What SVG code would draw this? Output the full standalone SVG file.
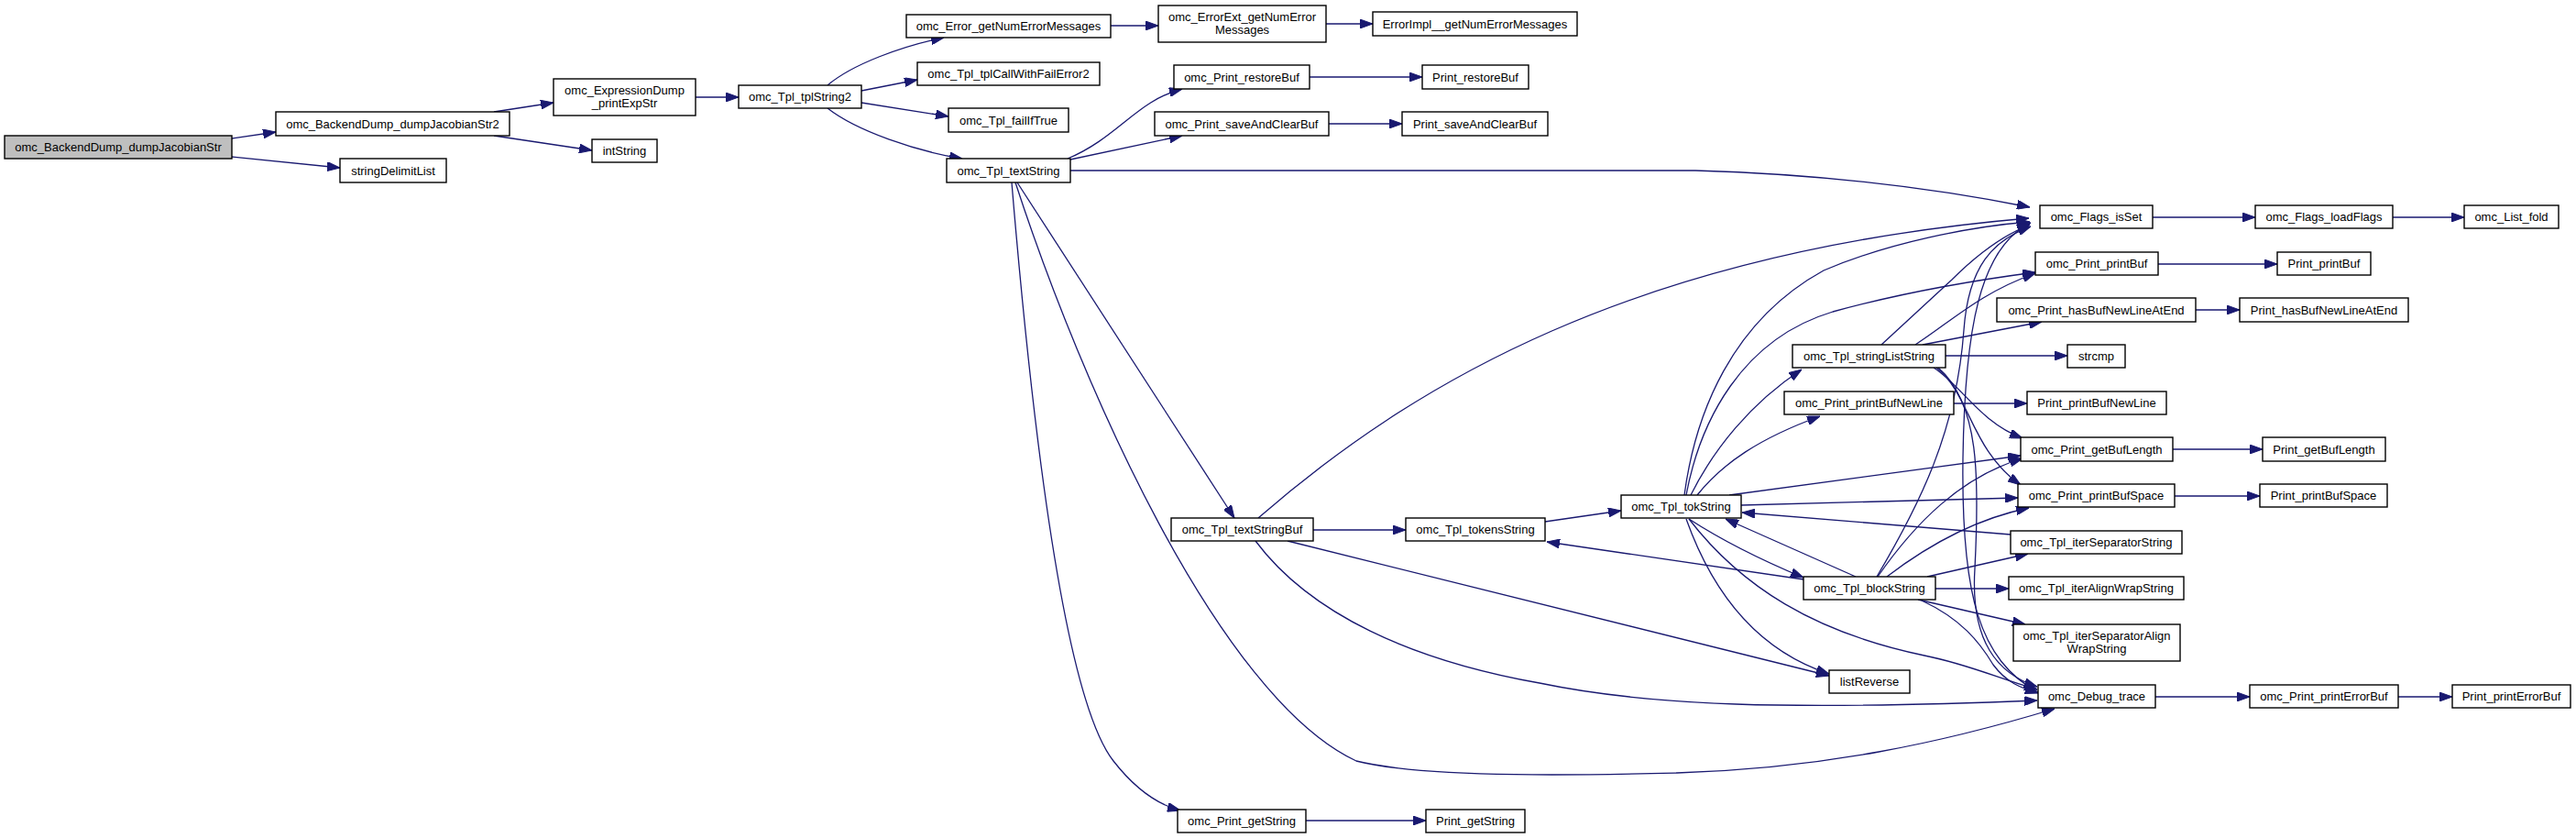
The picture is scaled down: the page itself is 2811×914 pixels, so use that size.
<svg xmlns="http://www.w3.org/2000/svg" width="2811" height="914" viewBox="0 0 2811 914">
<style>
.n rect{fill:#fff;stroke:#000;stroke-width:1.4}
.n text{font-family:"Liberation Sans",Arial,sans-serif;font-size:13px;text-anchor:middle;fill:#000}
#edges path{fill:none;stroke:#191970;stroke-width:1.3;marker-end:url(#ah)}
</style>
<defs>
<marker id="ah" markerUnits="userSpaceOnUse" markerWidth="14" markerHeight="10" refX="14" refY="5" orient="auto">
<path d="M0,0 L14,5 L0,10 z" fill="#191970" stroke="#191970" stroke-width="1"/>
</marker>
</defs>
<rect width="2811" height="914" fill="#fff"/>
<g id="edges">
<path d="M253,151 L301,144"/>
<path d="M253,171 L371,183"/>
<path d="M539,122 L604,112"/>
<path d="M539,148 L646,164"/>
<path d="M759,106 L806,106"/>
<path d="M903,93 C930,70 985,50 1030,41"/>
<path d="M940,99 L1001,87"/>
<path d="M940,112 L1035,127"/>
<path d="M903,118 C935,143 1000,165 1050,173"/>
<path d="M1212,28 L1264,28"/>
<path d="M1447,26 L1498,26"/>
<path d="M1165,173 C1220,150 1240,110 1290,97"/>
<path d="M1168,174 L1290,148"/>
<path d="M1429,84 L1552,84"/>
<path d="M1450,135 L1530,135"/>
<path d="M1168,186 L1850,186 C1990,190 2110,205 2215,226"/>
<path d="M1110,199 L1347,565"/>
<path d="M1108,199 C1180,420 1330,760 1480,830 C1560,850 1750,845 1830,843 C1990,838 2120,810 2242,773"/>
<path d="M1104,199 C1125,450 1160,760 1215,830 C1240,862 1265,878 1288,884"/>
<path d="M1425,895 L1556,895"/>
<path d="M1373,565 C1540,420 1780,275 2214,238"/>
<path d="M1433,578 L1534,578"/>
<path d="M1405,590 L1996,737"/>
<path d="M1370,590 C1430,670 1540,720 1680,745 C1800,770 1950,775 2223,764"/>
<path d="M1686,569 L1769,557"/>
<path d="M1838,540 C1850,450 1890,350 1990,295 C2060,265 2150,247 2215,242"/>
<path d="M1840,540 C1855,460 1900,370 2000,340 C2080,318 2160,305 2221,297"/>
<path d="M1845,540 C1870,490 1910,440 1966,403"/>
<path d="M1852,540 C1880,505 1920,478 1986,454"/>
<path d="M1887,540 L2205,497"/>
<path d="M1900,551 L2202,543"/>
<path d="M1843,566 C1880,590 1920,610 1968,630"/>
<path d="M1840,566 C1870,650 1920,710 1996,735"/>
<path d="M1843,566 C1900,640 1980,690 2100,715 C2150,725 2180,740 2223,752"/>
<path d="M2053,376 L2130,305 C2160,275 2190,255 2215,245"/>
<path d="M2090,376 C2130,350 2160,320 2221,298"/>
<path d="M2098,376 L2228,351"/>
<path d="M2123,388 L2256,388"/>
<path d="M2110,401 C2140,420 2160,460 2207,478"/>
<path d="M2113,401 C2150,430 2150,490 2205,529"/>
<path d="M2115,401 C2160,440 2160,520 2155,620 C2150,700 2180,735 2223,749"/>
<path d="M2132,440 L2212,440"/>
<path d="M2349,237 L2461,237"/>
<path d="M2611,237 L2689,237"/>
<path d="M2355,288 L2485,288"/>
<path d="M2396,338 L2444,338"/>
<path d="M2371,490 L2469,490"/>
<path d="M2373,541 L2466,541"/>
<path d="M2194,583 L1901,559"/>
<path d="M2048,629 C2095,550 2135,470 2143,360 C2148,290 2175,262 2216,247"/>
<path d="M2049,629 C2090,570 2140,520 2207,500"/>
<path d="M2059,629 C2110,590 2160,565 2214,554"/>
<path d="M2103,629 L2213,604"/>
<path d="M2112,642 L2192,642"/>
<path d="M2093,654 L2210,681"/>
<path d="M2097,655 C2140,675 2160,700 2175,725 C2190,745 2205,750 2224,756"/>
<path d="M2025,629 L1883,566"/>
<path d="M1968,632 L1688,591"/>
<path d="M2352,760 L2455,760"/>
<path d="M2617,760 L2676,760"/>
<path d="M2224,755 C2160,720 2140,650 2142,500 C2144,360 2160,270 2216,243"/>
</g>
<g id="n1" class="n"><rect x="5" y="148" width="248" height="25" style="fill:#bfbfbf"/><text x="129" y="165">omc_BackendDump_dumpJacobianStr</text></g>
<g id="n2" class="n"><rect x="301" y="122" width="255" height="26"/><text x="428.5" y="139.5">omc_BackendDump_dumpJacobianStr2</text></g>
<g id="n3" class="n"><rect x="371" y="173" width="116" height="26"/><text x="429" y="190.5">stringDelimitList</text></g>
<g id="n4" class="n"><rect x="604" y="86" width="155" height="40"/><text x="681.5" y="103">omc_ExpressionDump</text><text x="681.5" y="117">_printExpStr</text></g>
<g id="n5" class="n"><rect x="646" y="152" width="71" height="25"/><text x="681.5" y="169">intString</text></g>
<g id="n6" class="n"><rect x="806" y="93" width="134" height="25"/><text x="873" y="110">omc_Tpl_tplString2</text></g>
<g id="n7" class="n"><rect x="989" y="16" width="223" height="25"/><text x="1100.5" y="33">omc_Error_getNumErrorMessages</text></g>
<g id="n8" class="n"><rect x="1264" y="6" width="183" height="40"/><text x="1355.5" y="23">omc_ErrorExt_getNumError</text><text x="1355.5" y="37">Messages</text></g>
<g id="n9" class="n"><rect x="1498" y="13" width="223" height="26"/><text x="1609.5" y="30.5">ErrorImpl__getNumErrorMessages</text></g>
<g id="n10" class="n"><rect x="1001" y="68" width="199" height="25"/><text x="1100.5" y="85">omc_Tpl_tplCallWithFailError2</text></g>
<g id="n11" class="n"><rect x="1035" y="118" width="131" height="26"/><text x="1100.5" y="135.5">omc_Tpl_failIfTrue</text></g>
<g id="n12" class="n"><rect x="1033" y="173" width="135" height="26"/><text x="1100.5" y="190.5">omc_Tpl_textString</text></g>
<g id="n13" class="n"><rect x="1281" y="71" width="148" height="26"/><text x="1355" y="88.5">omc_Print_restoreBuf</text></g>
<g id="n14" class="n"><rect x="1552" y="71" width="116" height="26"/><text x="1610" y="88.5">Print_restoreBuf</text></g>
<g id="n15" class="n"><rect x="1260" y="122" width="190" height="26"/><text x="1355" y="139.5">omc_Print_saveAndClearBuf</text></g>
<g id="n16" class="n"><rect x="1530" y="122" width="159" height="26"/><text x="1609.5" y="139.5">Print_saveAndClearBuf</text></g>
<g id="n17" class="n"><rect x="2226" y="224" width="123" height="25"/><text x="2287.5" y="241">omc_Flags_isSet</text></g>
<g id="n18" class="n"><rect x="2461" y="224" width="150" height="25"/><text x="2536" y="241">omc_Flags_loadFlags</text></g>
<g id="n19" class="n"><rect x="2689" y="224" width="103" height="25"/><text x="2740.5" y="241">omc_List_fold</text></g>
<g id="n20" class="n"><rect x="2221" y="275" width="134" height="25"/><text x="2288" y="292">omc_Print_printBuf</text></g>
<g id="n21" class="n"><rect x="2485" y="275" width="102" height="25"/><text x="2536" y="292">Print_printBuf</text></g>
<g id="n22" class="n"><rect x="2179" y="325" width="217" height="26"/><text x="2287.5" y="342.5">omc_Print_hasBufNewLineAtEnd</text></g>
<g id="n23" class="n"><rect x="2444" y="325" width="184" height="26"/><text x="2536" y="342.5">Print_hasBufNewLineAtEnd</text></g>
<g id="n24" class="n"><rect x="1956" y="376" width="167" height="25"/><text x="2039.5" y="393">omc_Tpl_stringListString</text></g>
<g id="n25" class="n"><rect x="2256" y="376" width="63" height="25"/><text x="2287.5" y="393">strcmp</text></g>
<g id="n26" class="n"><rect x="1947" y="427" width="185" height="25"/><text x="2039.5" y="444">omc_Print_printBufNewLine</text></g>
<g id="n27" class="n"><rect x="2212" y="427" width="152" height="25"/><text x="2288" y="444">Print_printBufNewLine</text></g>
<g id="n28" class="n"><rect x="2205" y="477" width="166" height="26"/><text x="2288" y="494.5">omc_Print_getBufLength</text></g>
<g id="n29" class="n"><rect x="2469" y="477" width="134" height="26"/><text x="2536" y="494.5">Print_getBufLength</text></g>
<g id="n30" class="n"><rect x="2202" y="528" width="171" height="25"/><text x="2287.5" y="545">omc_Print_printBufSpace</text></g>
<g id="n31" class="n"><rect x="2466" y="528" width="139" height="25"/><text x="2535.5" y="545">Print_printBufSpace</text></g>
<g id="n32" class="n"><rect x="2194" y="579" width="187" height="25"/><text x="2287.5" y="596">omc_Tpl_iterSeparatorString</text></g>
<g id="n33" class="n"><rect x="1968" y="629" width="144" height="25"/><text x="2040" y="646">omc_Tpl_blockString</text></g>
<g id="n34" class="n"><rect x="2192" y="629" width="191" height="25"/><text x="2287.5" y="646">omc_Tpl_iterAlignWrapString</text></g>
<g id="n35" class="n"><rect x="2197" y="681" width="182" height="40"/><text x="2288" y="698">omc_Tpl_iterSeparatorAlign</text><text x="2288" y="712">WrapString</text></g>
<g id="n36" class="n"><rect x="1996" y="731" width="88" height="25"/><text x="2040" y="748">listReverse</text></g>
<g id="n37" class="n"><rect x="2224" y="747" width="128" height="25"/><text x="2288" y="764">omc_Debug_trace</text></g>
<g id="n38" class="n"><rect x="2455" y="747" width="162" height="25"/><text x="2536" y="764">omc_Print_printErrorBuf</text></g>
<g id="n39" class="n"><rect x="2676" y="747" width="129" height="25"/><text x="2740.5" y="764">Print_printErrorBuf</text></g>
<g id="n40" class="n"><rect x="1278" y="565" width="155" height="25"/><text x="1355.5" y="582">omc_Tpl_textStringBuf</text></g>
<g id="n41" class="n"><rect x="1534" y="565" width="152" height="25"/><text x="1610" y="582">omc_Tpl_tokensString</text></g>
<g id="n42" class="n"><rect x="1769" y="540" width="131" height="25"/><text x="1834.5" y="557">omc_Tpl_tokString</text></g>
<g id="n43" class="n"><rect x="1285" y="883" width="140" height="25"/><text x="1355" y="900">omc_Print_getString</text></g>
<g id="n44" class="n"><rect x="1556" y="883" width="108" height="25"/><text x="1610" y="900">Print_getString</text></g>
</svg>
